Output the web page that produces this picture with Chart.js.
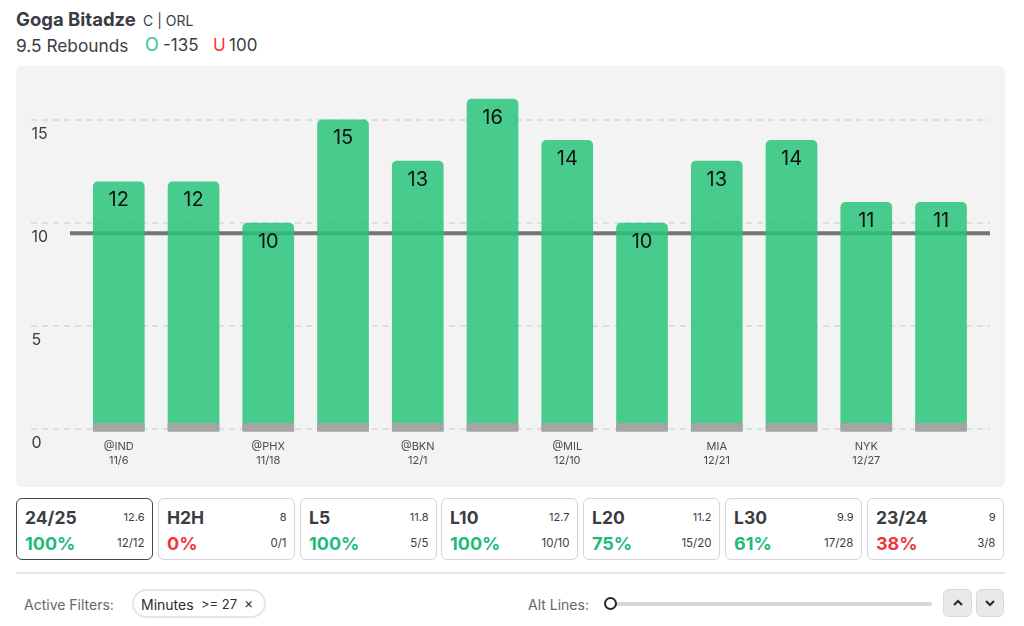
<!DOCTYPE html>
<html>
<head>
<meta charset="utf-8">
<script src="https://cdn.jsdelivr.net/npm/chart.js@4"></script>
<style>
  html, body { margin: 0; padding: 0; background: #fff; }
  body { width: 1024px; height: 626px; position: relative; overflow: hidden; font-family: Inter, sans-serif; color: #3c3c43; }
  .abs { position: absolute; white-space: nowrap; }
  #panel { position: absolute; left: 16px; top: 66px; width: 989px; height: 421px; background: #f3f3f3; border-radius: 6px; }
  #panel canvas { display: block; }
  .card { position: absolute; top: 498px; width: 135px; height: 59.5px; background: #fff; border: 1.5px solid #d6d6d8; border-radius: 6px; }
  .card.active { border-color: #45454c; }
  .card .name { position: absolute; left: 8px; top: 7.5px; font-size: 17.5px; font-weight: 700; }
  .card .avg { position: absolute; right: 7.5px; top: 11px; font-size: 11px; }
  .card .pct { position: absolute; left: 8px; top: 33.5px; font-size: 18px; font-weight: 700; }
  .card .rec { position: absolute; right: 7.5px; top: 37px; font-size: 11.5px; }
  .btn { position: absolute; top: 589px; height: 26px; background: #e9e9eb; border: 1px solid #d9d9db; border-radius: 6px; }
  .btn svg { position: absolute; left: 50%; top: 50%; margin: -4px 0 0 -6px; }
</style>
</head>
<body>
<div class="abs" style="left:16px;top:8px;font-size:18.5px;font-weight:700">Goga Bitadze</div>
<div class="abs" style="left:143px;top:12px;font-size:14px">C | ORL</div>
<div class="abs" style="left:16px;top:35px;font-size:17.3px">9.5 Rebounds</div>
<div class="abs" style="left:145px;top:34px;font-size:18px;color:#34c98a">O</div>
<div class="abs" style="left:163px;top:35px;font-size:17px">-135</div>
<div class="abs" style="left:213px;top:35px;font-size:17px;color:#f0353c">U</div>
<div class="abs" style="left:229px;top:35px;font-size:17px">100</div>

<div id="panel"><canvas id="gameChart" width="989" height="421"></canvas></div>
<div id="cards"></div>

<div class="abs" style="left:16px;top:572px;width:989px;height:1.5px;background:#e6e6e8"></div>
<div class="abs" style="left:24px;top:596px;font-size:14px;color:#66666c">Active Filters:</div>
<div class="abs" style="left:132px;top:589px;width:129.5px;height:25px;border:2px solid #e6e6e8;border-radius:15px"></div>
<div class="abs" style="left:141px;top:596px;font-size:14px;color:#2e2e33">Minutes</div>
<div class="abs" style="left:201px;top:596px;font-size:13px;color:#2e2e33">&gt;= 27</div>
<div class="abs" style="left:244px;top:594px;font-size:14px;color:#2e2e33">×</div>
<div class="abs" style="left:528px;top:596px;font-size:14px;color:#66666c">Alt Lines:</div>
<div class="abs" style="left:612px;top:601.5px;width:320px;height:4px;background:#d6d6d9;border-radius:2px"></div>
<div class="abs" style="left:603.5px;top:597px;width:9px;height:9px;background:#fff;border:2.5px solid #26262b;border-radius:50%"></div>
<div class="btn" style="left:943px;width:27px"><svg width="12" height="8"><path d="M2 6 L6 2 L10 6" fill="none" stroke="#26262b" stroke-width="2"/></svg></div>
<div class="btn" style="left:976px;width:26px"><svg width="12" height="8"><path d="M2 2 L6 6 L10 2" fill="none" stroke="#26262b" stroke-width="2"/></svg></div>

<script>
const opponents = ['@IND', '', '@PHX', '', '@BKN', '', '@MIL', '', 'MIA', '', 'NYK', ''];
const dates = ['11/6', '', '11/18', '', '12/1', '', '12/10', '', '12/21', '', '12/27', ''];
const rebounds = [12, 12, 10, 15, 13, 16, 14, 10, 13, 14, 11, 11];
const minuteStrip = [[-0.1, 0.3], [-0.1, 0.3], [-0.1, 0.3], [-0.1, 0.3], [-0.1, 0.3], [-0.1, 0.3],
                     [-0.1, 0.3], [-0.1, 0.3], [-0.1, 0.3], [-0.1, 0.3], [-0.1, 0.3], [-0.1, 0.3]];
const yTicks = [0, 5, 10, 15];
const propLine = 9.5;

const cardNames = ['24/25', 'H2H', 'L5', 'L10', 'L20', 'L30', '23/24'];
const cardAvgs = ['12.6', '8', '11.8', '12.7', '11.2', '9.9', '9'];
const cardPcts = ['100%', '0%', '100%', '100%', '75%', '61%', '38%'];
const cardRecords = ['12/12', '0/1', '5/5', '10/10', '15/20', '17/28', '3/8'];
const cardLefts = [16, 158, 300, 441, 583, 725, 867];

const cards = document.getElementById('cards');
cardNames.forEach((name, i) => {
    const good = parseInt(cardPcts[i]) > 50;
    const card = document.createElement('div');
    card.className = 'card' + (i === 0 ? ' active' : '');
    card.style.left = cardLefts[i] + 'px';
    card.innerHTML = `<span class="name">${name}</span><span class="avg">${cardAvgs[i]}</span>` +
        `<span class="pct" style="color:${good ? '#1dbb7c' : '#f0353c'}">${cardPcts[i]}</span>` +
        `<span class="rec">${cardRecords[i]}</span>`;
    cards.appendChild(card);
});

// grid and prop line run wider than the bars, so they are drawn off the y scale
const backLines = {
    id: 'backLines',
    beforeDatasetsDraw(chart) {
        const ctx = chart.ctx;
        const y = chart.scales.y;
        ctx.save();
        ctx.strokeStyle = '#dedede';
        ctx.lineWidth = 2;
        ctx.setLineDash([6, 5]);
        yTicks.forEach(v => {
            const py = Math.round(y.getPixelForValue(v));
            ctx.beginPath();
            ctx.moveTo(15, py);
            ctx.lineTo(974, py);
            ctx.stroke();
        });
        ctx.setLineDash([]);
        ctx.strokeStyle = '#757575';
        ctx.lineWidth = 4;
        const py = y.getPixelForValue(propLine);
        ctx.beginPath();
        ctx.moveTo(54, py);
        ctx.lineTo(974, py);
        ctx.stroke();
        ctx.restore();
    }
};

const barValues = {
    id: 'barValues',
    afterDatasetsDraw(chart) {
        const ctx = chart.ctx;
        ctx.save();
        ctx.fillStyle = '#111';
        ctx.font = '20px Inter, sans-serif';
        ctx.textAlign = 'center';
        ctx.textBaseline = 'middle';
        chart.getDatasetMeta(0).data.forEach((bar, i) => {
            ctx.fillText(rebounds[i], bar.x, bar.y + 18.5);
        });
        ctx.restore();
    }
};

new Chart(document.getElementById('gameChart').getContext('2d'), {
    type: 'bar',
    data: {
        labels: opponents.map((o, i) => [o, dates[i]]),
        datasets: [
            {
                data: rebounds,
                backgroundColor: 'rgba(40, 196, 122, 0.85)',
                borderRadius: { topLeft: 5, topRight: 5 },
                borderSkipped: false,
                barThickness: 51,
                grouped: false,
                order: 2
            },
            {
                data: minuteStrip,
                backgroundColor: '#a5a5a5',
                barThickness: 51,
                grouped: false,
                order: 1
            }
        ]
    },
    plugins: [backLines, barValues],
    options: {
        responsive: false,
        animation: false,
        layout: { padding: { top: 3, right: 26.6, left: 15.4, bottom: 0 } },
        plugins: { legend: { display: false }, tooltip: { enabled: false } },
        scales: {
            x: {
                grid: { display: false, drawTicks: false },
                border: { display: false },
                afterFit(scale) { scale.height = 47.2; },
                ticks: {
                    autoSkip: false,
                    maxRotation: 0,
                    padding: 0,
                    color: '#4a4a50',
                    font: { family: 'Inter, sans-serif', size: 11, lineHeight: 1.27 }
                }
            },
            y: {
                min: -0.5,
                max: 17.14,
                grid: { display: false, drawTicks: false },
                border: { display: false },
                afterBuildTicks(scale) { scale.ticks = yTicks.map(value => ({ value })); },
                afterFit(scale) { scale.width = 50; },
                ticks: {
                    crossAlign: 'far',
                    padding: 0,
                    labelOffset: 14,
                    color: '#3c3c43',
                    font: { family: 'Inter, sans-serif', size: 16 }
                }
            }
        }
    }
});
</script>
</body>
</html>
